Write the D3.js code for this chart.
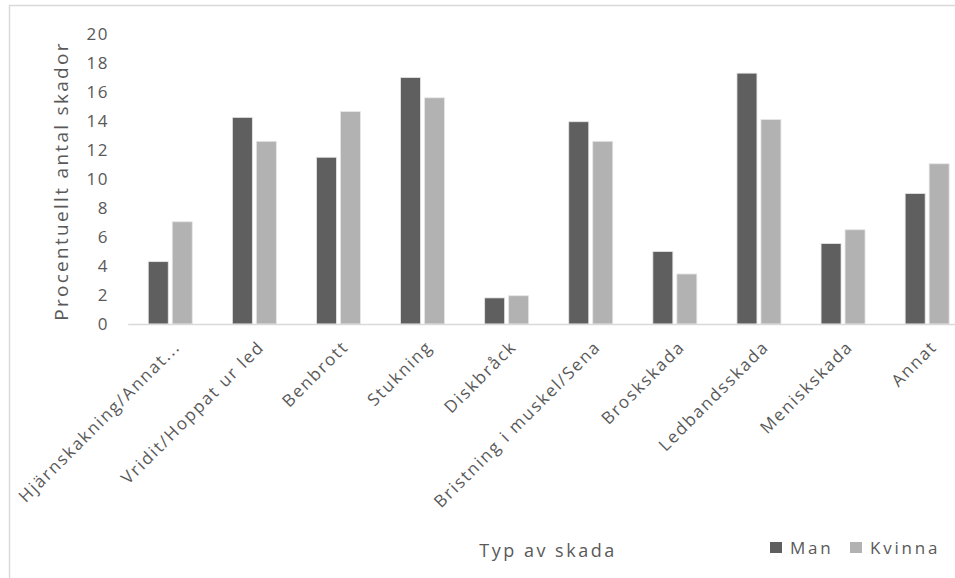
<!DOCTYPE html>
<html>
<head>
<meta charset="utf-8">
<script src="https://cdn.jsdelivr.net/npm/d3@7"></script>
<style>
  html, body { margin: 0; padding: 0; background: #fff; }
  svg { display: block; }
  text { font-family: "Open Sans", "Noto Sans", sans-serif; fill: #595959; }
</style>
</head>
<body>
<svg id="chart" width="955" height="578"></svg>
<script>
// Injury types (x categories)
const categories = [
  "Hjärnskakning/Annat...",
  "Vridit/Hoppat ur led",
  "Benbrott",
  "Stukning",
  "Diskbråck",
  "Bristning i muskel/Sena",
  "Broskskada",
  "Ledbandsskada",
  "Meniskskada",
  "Annat"
];
const seriesNames = ["Man", "Kvinna"];
// Percentage of injuries per type
const manValues    = [4.3, 14.25, 11.5, 17.0, 1.8, 13.95, 5.0, 17.3, 5.55, 9.0];
const kvinnaValues = [7.05, 12.6, 14.65, 15.6, 1.95, 12.6, 3.45, 14.1, 6.5, 11.05];
const yTicks = [0, 2, 4, 6, 8, 10, 12, 14, 16, 18, 20];
const colors = { "Man": "#5f5f5f", "Kvinna": "#b2b2b2" };

const svg = d3.select("#chart");

// outer chart frame
svg.append("rect")
  .attr("x", 9.5).attr("y", 5.5)
  .attr("width", 1100).attr("height", 700)
  .attr("fill", "none").attr("stroke", "#d9d9d9").attr("stroke-width", 1.5);

const x0 = d3.scaleBand()
  .domain(categories)
  .range([128.2, 969.2])
  .paddingInner(0.477)
  .paddingOuter(0.2385);

const x1 = d3.scaleBand()
  .domain(seriesNames)
  .range([0, x0.bandwidth()])
  .paddingInner(1 / 6);

const y = d3.scaleLinear().domain([0, 20]).range([324, 34]);

const rows = categories.map((c, i) => ({
  category: c,
  values: [
    { key: "Man", value: manValues[i] },
    { key: "Kvinna", value: kvinnaValues[i] }
  ]
}));

// bars
const groups = svg.append("g").selectAll("g")
  .data(rows).join("g")
  .attr("transform", d => `translate(${x0(d.category)},0)`);

groups.selectAll("rect")
  .data(d => d.values).join("rect")
  .attr("x", d => x1(d.key))
  .attr("y", d => y(d.value))
  .attr("width", x1.bandwidth())
  .attr("height", d => y(0) - y(d.value))
  .attr("fill", d => colors[d.key])
  .attr("stroke", "#e6e6e6")
  .attr("stroke-width", 0.8);

// y axis (labels only)
const yAxis = d3.axisLeft(y).tickValues(yTicks).tickSize(0).tickPadding(0);
const yg = svg.append("g").attr("transform", "translate(109,0)").call(yAxis);
yg.select(".domain").remove();
yg.selectAll("text")
  .style("font-family", "'Open Sans', 'Noto Sans', sans-serif")
  .style("font-size", "17px")
  .style("letter-spacing", "1.5px")
  .attr("fill", "#595959")
  .attr("dy", "0.3em");

// x axis baseline
svg.append("line")
  .attr("x1", 128.2).attr("x2", 969.2)
  .attr("y1", y(0) + 0.5).attr("y2", y(0) + 0.5)
  .attr("stroke", "#d9d9d9").attr("stroke-width", 1.5);

// x category labels, rotated
const xAxis = d3.axisBottom(x0).tickSize(0).tickPadding(0);
const xg = svg.append("g").attr("transform", `translate(0,${y(0)})`).call(xAxis);
xg.select(".domain").remove();
xg.selectAll("text")
  .style("font-family", "'Open Sans', 'Noto Sans', sans-serif")
  .style("font-size", "17px")
  .style("letter-spacing", "1.8px")
  .attr("fill", "#595959")
  .attr("text-anchor", "end")
  .attr("dy", null)
  .attr("y", 0)
  .attr("transform", "translate(11,24) rotate(-45)");

// axis titles
svg.append("text")
  .attr("transform", "translate(68,181) rotate(-90)")
  .attr("text-anchor", "middle")
  .style("font-size", "19px")
  .style("letter-spacing", "2.3px")
  .text("Procentuellt antal skador");

svg.append("text")
  .attr("x", 548).attr("y", 557)
  .attr("text-anchor", "middle")
  .style("font-size", "18px")
  .style("letter-spacing", "2.5px")
  .text("Typ av skada");

// legend
const legend = svg.append("g");
const legendItems = [
  { key: "Man", x: 770 },
  { key: "Kvinna", x: 850 }
];
legendItems.forEach(it => {
  legend.append("rect")
    .attr("x", it.x).attr("y", 542)
    .attr("width", 12).attr("height", 11)
    .attr("fill", colors[it.key]);
  legend.append("text")
    .attr("x", it.x + 20).attr("y", 554)
    .style("font-size", "17px")
    .style("letter-spacing", "2.8px")
    .text(it.key);
});
</script>
</body>
</html>
